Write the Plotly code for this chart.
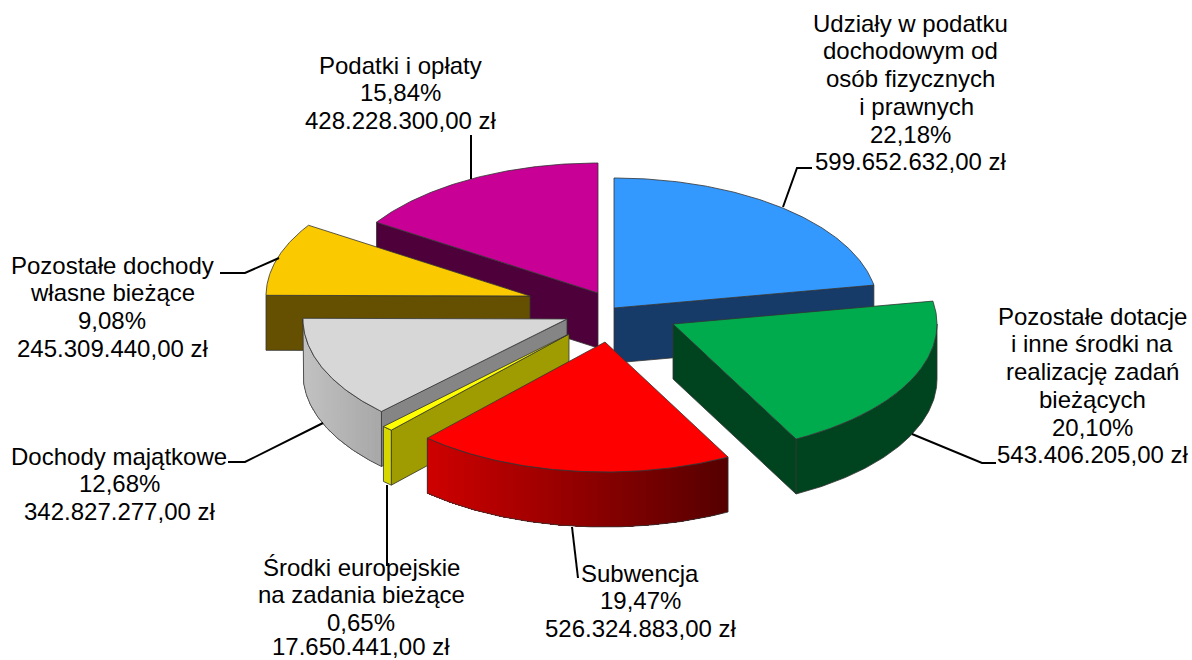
import math
import plotly.graph_objects as go

# Data (clockwise from 12 o'clock)
names = ["Udziały w podatku<br>dochodowym od<br>osób fizycznych<br>\u00a0\u00a0i prawnych",
         "Pozostałe dotacje<br>i inne środki na<br>realizację zadań<br>bieżących",
         "Subwencja",
         "Środki europejskie<br>na zadania bieżące",
         "Dochody majątkowe",
         "Pozostałe dochody<br>własne bieżące",
         "Podatki i opłaty"]
amounts = [599652632.00, 543406205.00, 526324883.00, 17650441.00,
           342827277.00, 245309440.00, 428228300.00]
percents = ["22,18%", "20,10%", "19,47%", "0,65%", "12,68%", "9,08%", "15,84%"]

# Style and layout
top_colors = ["#3399FF", "#00AB4E", "#FF0000", "#FFFF00", "#D7D7D7", "#FBC900", "#C80096"]
face_colors = ["#163B69", "#00431F", "#660000", "#9E9C00", "#858585", "#645000", "#4E003A"]
wall_left = ["#163B69", "#00431F", "#D00000", "#D6D600", "#C2C2C2", "#645000", "#4E003A"]
wall_right = ["#163B69", "#00431F", "#560000", "#D6D600", "#A8A8A8", "#645000", "#4E003A"]
apex = [(614, 308), (673, 324), (605, 342), (569, 334), (567, 319), (530, 296), (598, 293)]
draw_order = [6, 5, 0, 4, 3, 1, 2]
first_line = [(910, 23), (1092, 316), (640, 573), (361, 567), (119, 456), (112, 265), (400, 65)]
LINE_STEP = 27.75
leaders = [[(783, 207), (797, 168), (812, 168)],
           [(912, 434), (982, 463), (996, 463)],
           [(572, 527), (578, 578)],
           [(387, 485), (387, 566)],
           [(323, 423), (245, 462), (228, 462)],
           [(279, 258), (245, 273), (220, 273)],
           [(471, 179), (471, 135)]]
RX, RY, DEPTH = 264, 130, 55
EDGE = "#333333"


def pt(c, deg, dz=0):
    t = math.radians(deg)
    return c[0] + RX * math.sin(t), c[1] - RY * math.cos(t) + dz


def lerp(a, b, f):
    ca = [int(a[i:i + 2], 16) for i in (1, 3, 5)]
    cb = [int(b[i:i + 2], 16) for i in (1, 3, 5)]
    return "#%02x%02x%02x" % tuple(round(x + (y - x) * f) for x, y in zip(ca, cb))


fig = go.Figure()


def poly(points, fill, line=None, width=0.8):
    fig.add_trace(go.Scatter(
        x=[p[0] for p in points] + [points[0][0]],
        y=[p[1] for p in points] + [points[0][1]],
        mode="lines", fill="toself", fillcolor=fill,
        line=dict(color=line or fill, width=width),
        hoverinfo="skip", showlegend=False))


total = sum(amounts)
edges = [0.0]
for v in amounts:
    edges.append(edges[-1] + 360.0 * v / total)

for i in draw_order:
    a, b, c = edges[i], edges[i + 1], apex[i]
    # radial side faces
    if 180 < a < 360:
        poly([c, pt(c, a), pt(c, a, DEPTH), (c[0], c[1] + DEPTH)], face_colors[i], EDGE)
    if 0 < b < 180:
        poly([c, pt(c, b), pt(c, b, DEPTH), (c[0], c[1] + DEPTH)], face_colors[i], EDGE)
    # curved outer wall, shaded by x; each band overlaps all the later ones so no seams appear
    lo, hi = max(a, 90), min(b, 270)
    if lo < hi:
        n = max(2, int((hi - lo) * 1.5))
        ang = [lo + (hi - lo) * k / n for k in range(n + 1)]
        xs = [pt(c, t)[0] for t in ang]
        xmin, xmax = min(xs), max(xs)
        outline = [pt(c, t) for t in ang] + [pt(c, t, DEPTH) for t in reversed(ang)]
        if wall_left[i] == wall_right[i]:
            poly(outline, wall_left[i], EDGE)
        else:
            step = max(1, n // 40)
            for k in range(0, n, step):
                f = 1 - (xs[k] - xmin) / (xmax - xmin)   # 0 = left end, 1 = right end
                rest = ang[k:]
                col = lerp(wall_right[i], wall_left[i], f)
                poly([pt(c, t) for t in rest] + [pt(c, t, DEPTH) for t in reversed(rest)], col, col, 0)
            fig.add_trace(go.Scatter(x=[p[0] for p in outline] + [outline[0][0]],
                                     y=[p[1] for p in outline] + [outline[0][1]],
                                     mode="lines", line=dict(color=EDGE, width=0.8),
                                     hoverinfo="skip", showlegend=False))
    # top surface
    n = max(2, int(b - a) * 2)
    arc = [pt(c, a + (b - a) * k / n) for k in range(n + 1)]
    poly([c] + arc, top_colors[i], EDGE)

# leader lines
for seg in leaders:
    fig.add_trace(go.Scatter(x=[p[0] for p in seg], y=[p[1] for p in seg], mode="lines",
                             line=dict(color="#000000", width=2),
                             hoverinfo="skip", showlegend=False))


def money(v):
    s = f"{v:,.2f}"
    return s.replace(",", " ").replace(".", ",").replace(" ", ".") + " zł"


annotations = []
for n, q, v, p in zip(names, percents, amounts, first_line):
    for j, line in enumerate(n.split("<br>") + [q, money(v)]):
        annotations.append(dict(x=p[0], y=min(p[1] + j * LINE_STEP, 646), xref="x", yref="y",
                                xanchor="center", yanchor="middle", showarrow=False,
                                borderpad=0, text=line,
                                font=dict(family="Liberation Sans", size=24, color="#000000")))

fig.update_layout(width=1192, height=660, margin=dict(l=0, r=0, t=0, b=0),
                  paper_bgcolor="#FFFFFF", plot_bgcolor="#FFFFFF",
                  xaxis=dict(range=[0, 1192], visible=False, fixedrange=True),
                  yaxis=dict(range=[660, 0], visible=False, fixedrange=True),
                  annotations=annotations)
fig.write_html("out.html", config={"displayModeBar": False},
               post_script="document.body.style.margin='0';")
